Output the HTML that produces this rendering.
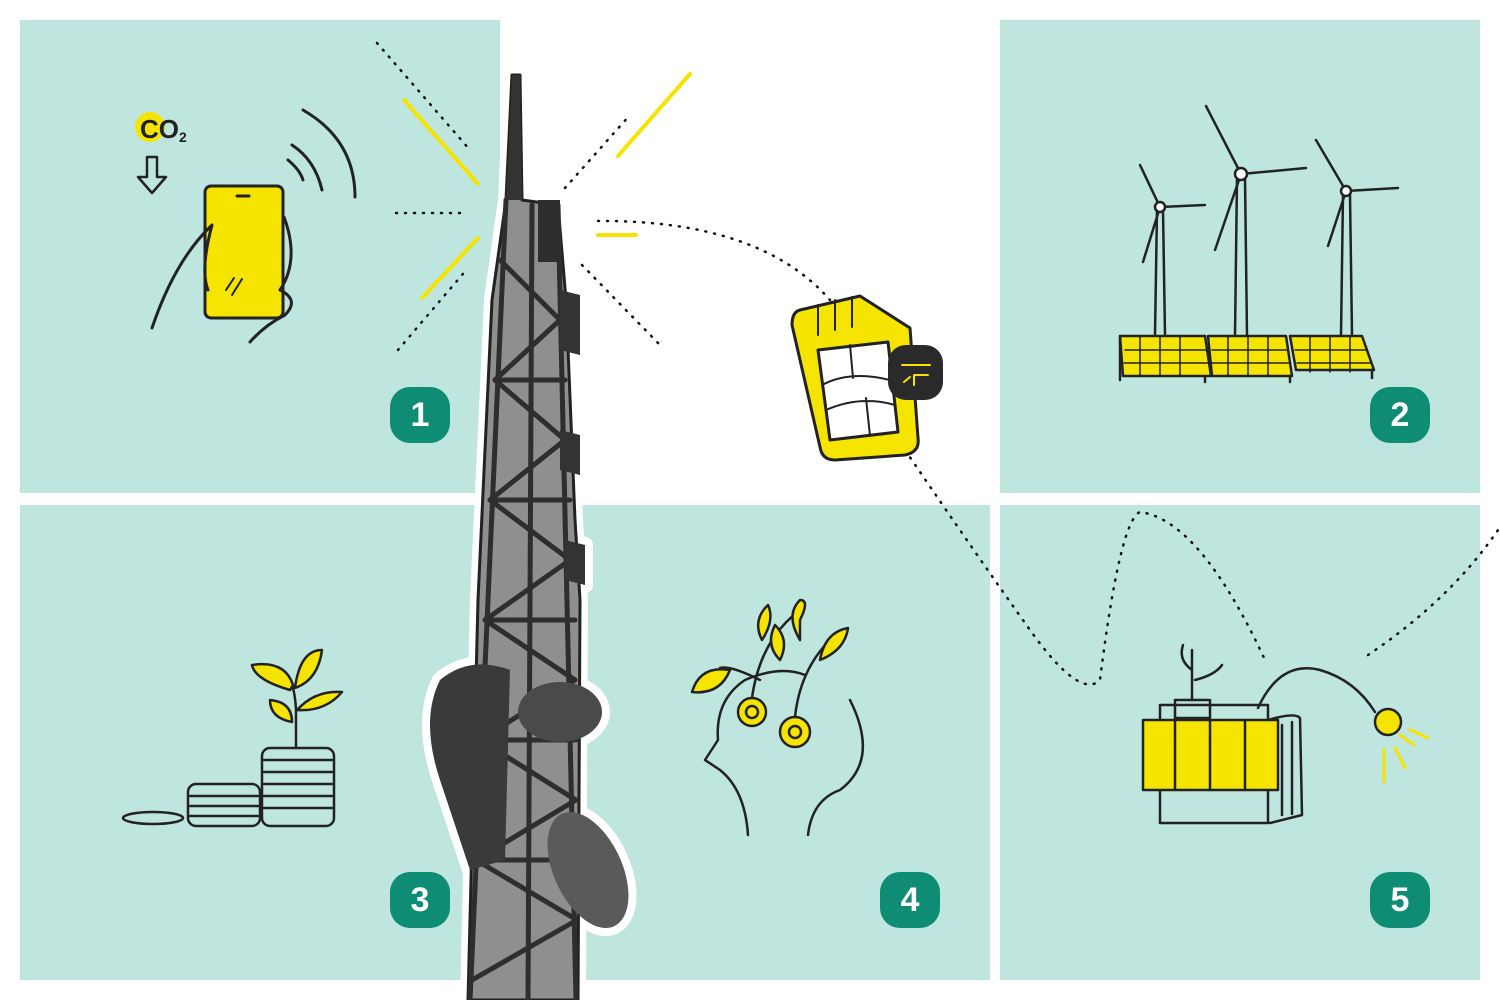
<!DOCTYPE html>
<html><head><meta charset="utf-8"><style>
html,body{margin:0;padding:0;background:#fff;}
body{width:1500px;height:1000px;position:relative;overflow:hidden;font-family:"Liberation Sans",sans-serif;}
.p{position:absolute;background:#bee6df;}
.b{position:absolute;width:60px;height:56px;border-radius:20px;background:#0e8c74;color:#fff;font-weight:bold;font-size:34px;line-height:56px;text-align:center;}
svg{position:absolute;left:0;top:0;}
</style></head><body>
<div class="p" style="left:20px;top:20px;width:480px;height:473px"></div>
<div class="p" style="left:1000px;top:20px;width:480px;height:473px"></div>
<div class="p" style="left:20px;top:505px;width:480px;height:475px"></div>
<div class="p" style="left:500px;top:505px;width:490px;height:475px"></div>
<div class="p" style="left:1000px;top:505px;width:480px;height:475px"></div>
<svg width="1500" height="1000" viewBox="0 0 1500 1000" fill="none" stroke="#222" stroke-width="3" stroke-linecap="round" stroke-linejoin="round">
<g stroke="#111" stroke-width="2.5" stroke-dasharray="1 8">
<path d="M377 43 L470 150"/><path d="M396 213 L468 213"/><path d="M398 350 L468 268"/>
<path d="M565 188 L630 115"/><path d="M598 221 Q760 220 830 300"/><path d="M582 265 L660 345"/>
<path d="M905 450 Q980 560 1030 630 Q1080 700 1100 680 Q1120 520 1140 512 Q1200 520 1265 660"/>
<path d="M1368 655 Q1450 600 1498 530"/>
</g>
<g stroke="#f5e400" stroke-width="4">
<path d="M404 100 L478 184"/><path d="M478 238 L422 298"/><path d="M618 156 L690 74"/><path d="M598 235 L636 235"/>
</g>
<!-- panel 1 -->
<circle cx="150" cy="127" r="15" fill="#f5e400" stroke="none"/>
<text x="140" y="138" font-size="26" font-weight="bold" fill="#222" stroke="none" font-family="Liberation Sans">CO<tspan font-size="14" dy="4">2</tspan></text>
<path d="M147 157 h10 v20 h9 l-14 16 l-14 -16 h9 z" stroke-width="2.5"/>
<rect x="205" y="186" width="78" height="132" rx="6" fill="#f5e400"/>
<path d="M237 196 h12"/><path d="M226 290 l8 -12 M232 295 l10 -16" stroke-width="2"/>
<path d="M152 328 Q175 260 212 225 Q200 270 208 290"/>
<path d="M284 217 Q300 260 280 290 Q300 300 285 315 Q265 325 250 342"/>
<path d="M288 160 Q300 170 303 180 M292 145 Q315 160 322 190 M303 110 Q355 140 355 197"/>
<!-- panel 2 turbines -->
<g stroke-width="2.5">
<path d="M1157 210 L1155 335 M1163 210 L1165 335"/>
<path d="M1160 207 L1140 165 M1160 207 L1205 205 M1160 207 L1143 262"/>
<circle cx="1160" cy="207" r="5" fill="#fff"/>
<path d="M1237 178 L1235 335 M1245 178 L1247 335"/>
<path d="M1241 174 L1206 106 M1241 174 L1306 168 M1241 174 L1215 250"/>
<circle cx="1241" cy="174" r="6" fill="#fff"/>
<path d="M1343 195 L1341 335 M1350 195 L1352 335"/>
<path d="M1346 191 L1316 140 M1346 191 L1398 188 M1346 191 L1328 246"/>
<circle cx="1346" cy="191" r="5" fill="#fff"/>
<path d="M1120 336 h85 l6 40 h-88 z" fill="#f5e400"/>
<path d="M1208 336 h78 l6 40 h-80 z" fill="#f5e400"/>
<path d="M1290 336 h72 l12 34 h-78 z" fill="#f5e400"/>
<path d="M1125 350 h82 M1124 363 h84 M1212 350 h76 M1212 363 h78 M1295 350 h72 M1297 363 h74 M1140 337 v38 M1160 337 v38 M1180 337 v38 M1228 337 v38 M1248 337 v38 M1268 337 v38 M1310 337 v35 M1330 337 v35 M1350 337 v35" stroke-width="1.5"/>
<path d="M1120 336 v44 M1205 376 v6 M1290 376 v6 M1372 370 v8"/>
</g>
<!-- SIM -->
<path d="M800 310 L860 296 L910 328 L918 438 Q920 452 905 455 L835 460 Q822 460 820 447 L792 325 Q792 312 800 310 Z" fill="#f5e400"/>
<path d="M818 350 L888 342 L898 432 L830 440 Z" fill="#fff"/>
<path d="M822 385 Q850 370 890 380 M826 410 Q860 395 895 405 M850 345 L853 378 M866 398 L870 436" stroke-width="2"/>
<path d="M818 305 v30 M835 300 v30 M852 297 v30" stroke-width="2"/>
<rect x="888" y="345" width="55" height="55" rx="18" fill="#2a2a2a" stroke="none"/>
<path d="M902 365 h28 M904 382 l6 -5 M914 385 v-10 h14" stroke="#f5e400" stroke-width="2"/>
<!-- panel 3 -->
<g stroke-width="2.5" fill="#bee6df">
<ellipse cx="153" cy="818" rx="30" ry="6"/>
<rect x="188" y="784" width="72" height="42" rx="8"/>
<path d="M190 796 h68 M190 806 h68 M190 816 h68"/>
<rect x="262" y="748" width="72" height="78" rx="8"/>
<path d="M264 760 h68 M264 772 h68 M264 784 h68 M264 796 h68 M264 808 h68"/>
<path d="M296 748 V710 Q295 690 290 680" fill="none"/>
<path d="M290 690 Q255 680 252 665 Q285 660 293 685 Z" fill="#f5e400"/>
<path d="M295 688 Q300 650 322 650 Q318 680 295 688 Z" fill="#f5e400"/>
<path d="M297 710 Q315 690 342 692 Q325 712 297 710 Z" fill="#f5e400"/>
<path d="M292 722 Q270 718 270 700 Q292 702 292 722 Z" fill="#f5e400"/>
</g>
<!-- panel 4 -->
<g stroke-width="2.5">
<path d="M748 835 Q745 790 720 770 L705 760 L718 740 Q715 700 745 680 Q780 665 805 675 M850 700 Q880 760 840 790 Q812 800 808 835"/>
<circle cx="752" cy="712" r="14" fill="#f5e400"/><circle cx="752" cy="712" r="6"/>
<circle cx="795" cy="732" r="15" fill="#f5e400"/><circle cx="795" cy="732" r="6"/>
<path d="M752 698 Q760 640 800 610 M795 717 Q800 670 830 640 M760 680 Q730 665 720 668"/>
<path d="M692 692 Q700 665 730 670 Q720 695 692 692 Z" fill="#f5e400"/>
<path d="M762 640 Q775 620 768 605 Q752 620 762 640 Z" fill="#f5e400"/>
<path d="M800 620 Q810 600 800 600 Q785 615 800 640 Z" fill="#f5e400"/>
<path d="M820 660 Q845 650 848 628 Q825 632 820 660 Z" fill="#f5e400"/>
<path d="M780 660 Q790 640 775 625 Q765 645 780 660 Z" fill="#f5e400"/>
</g>
<!-- panel 5 -->
<g stroke-width="2.5">
<path d="M1160 705 h108 v118 h-108 z"/>
<rect x="1143" y="720" width="135" height="70" fill="#f5e400"/>
<path d="M1175 720 v70 M1210 720 v70 M1245 720 v70"/>
<path d="M1268 720 Q1295 712 1300 718 L1302 815 L1270 823 M1282 725 v90 M1292 722 v92"/>
<rect x="1175" y="700" width="35" height="18"/>
<path d="M1192 700 V650 M1192 670 Q1178 660 1183 645 M1195 680 Q1215 675 1222 665"/>
<path d="M1258 708 Q1280 660 1320 670 Q1355 680 1375 712"/>
<circle cx="1388" cy="722" r="13" fill="#f5e400"/>
<path d="M1400 735 l14 10 M1395 748 l10 20 M1384 750 v32 M1410 730 l18 8" stroke="#f5e400" stroke-width="3"/>
</g>
<!-- tower -->
<g>
<g fill="#fff" stroke="#fff" stroke-width="16">
<path d="M512 75 L520 75 L522 200 L558 205 L566 300 L575 520 L580 600 L578 1000 L468 1000 L478 600 L492 300 L506 200 Z"/>
<path d="M440 680 Q470 655 510 670 L505 860 L470 870 L440 780 Q420 720 440 680 Z"/>
<ellipse cx="560" cy="712" rx="42" ry="30"/>
<ellipse cx="588" cy="870" rx="34" ry="62" transform="rotate(-25 588 870)"/>
<path d="M560 290 l20 5 v60 l-20 -5z M560 430 l20 5 v40 l-20 -5z M565 540 l20 5 v40 l-20 -5z"/>
</g>
<path d="M512 75 L520 75 L522 200 L558 205 L566 300 L575 520 L580 600 L578 1000 L468 1000 L478 600 L492 300 L506 200 Z" fill="#8f8f8f"/>
<path d="M512 75 L520 75 L522 200 L506 200 Z" fill="#333" stroke="none"/>
<g stroke="#2e2e2e" stroke-width="5">
<path d="M506 200 L470 1000 M558 205 L576 1000 M532 205 L528 1000"/>
<path d="M500 260 L560 320 L495 380 L565 440 L490 500 L570 560 L485 620 L575 680 L480 740 L576 800 L476 860 L577 920 L472 980"/>
<path d="M495 380 L565 380 M490 500 L570 500 M485 620 L575 620 M480 740 L576 740 M476 860 L577 860"/>
</g>
<rect x="538" y="200" width="22" height="62" fill="#2e2e2e" stroke="none"/>
<path d="M560 290 l20 5 v60 l-20 -5z M560 430 l20 5 v40 l-20 -5z M565 540 l20 5 v40 l-20 -5z" fill="#333" stroke="none"/>
<path d="M440 680 Q470 655 510 670 L505 860 L470 870 L440 780 Q420 720 440 680 Z" fill="#3a3a3a" stroke="none"/>
<ellipse cx="560" cy="712" rx="42" ry="30" fill="#4a4a4a" stroke="none"/>
<ellipse cx="588" cy="870" rx="34" ry="62" transform="rotate(-25 588 870)" fill="#5a5a5a" stroke="none"/>
</g>
</svg>
<div class="b" style="left:390px;top:387px">1</div>
<div class="b" style="left:1370px;top:387px">2</div>
<div class="b" style="left:390px;top:872px">3</div>
<div class="b" style="left:880px;top:872px">4</div>
<div class="b" style="left:1370px;top:872px">5</div>
</body></html>
